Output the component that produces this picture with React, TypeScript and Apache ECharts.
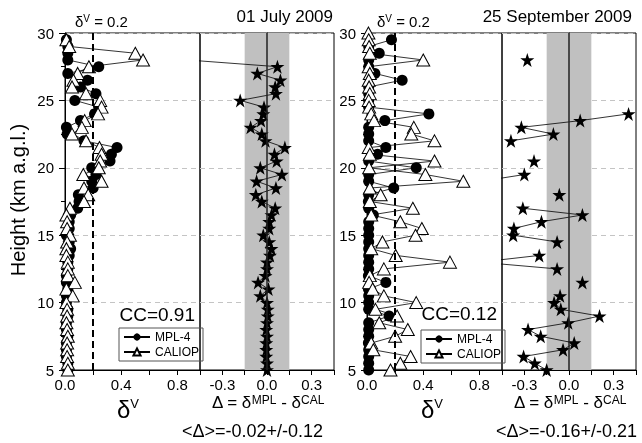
import React, { useEffect, useRef } from 'react';
import * as echarts from 'echarts';

// heights (km a.g.l.), top to bottom
const heights = [30, 29.5, 29, 28.5, 28, 27.5, 27, 26.5, 26, 25.5, 25, 24.5, 24, 23.5, 23, 22.5, 22, 21.5, 21, 20.5, 20, 19.5, 19, 18.5, 18, 17.5, 17, 16.5, 16, 15.5, 15, 14.5, 14, 13.5, 13, 12.5, 12, 11.5, 11, 10.5, 10, 9.5, 9, 8.5, 8, 7.5, 7, 6.5, 6, 5.5, 5];

// 01 July 2009
const julyMPL = [null, 0.01, 0.02, 0.02, 0.02, 0.24, 0.02, 0.16, 0.11, 0.22, 0.07, 0.24, 0.21, 0.11, 0.01, 0.015, 0.135, 0.37, 0.33, 0.32, 0.19, 0.22, 0.19, 0.2, 0.095, 0.1, 0.09, 0.04, 0.03, 0.03, 0.01, 0.03, 0.04, 0.03, 0.02, 0.02, 0.01, 0.01, 0.02, 0.01, 0.01, 0.02, 0.02, 0.01, 0.01, 0.02, 0.01, 0.01, 0.01, 0.02, 0.02];
const julyCAL = [null, 0.01, 0.03, 0.5, 0.555, 0.17, 0.09, 0.06, 0.05, 0.15, 0.25, 0.26, 0.235, 0.14, 0.12, 0.05, 0.15, 0.245, 0.26, 0.25, 0.24, 0.13, 0.26, 0.135, 0.165, 0.135, 0.035, 0.01, 0.015, 0.015, 0.035, 0.015, 0.01, 0.01, 0.02, 0.02, 0.02, 0.07, 0.01, 0.055, 0.01, 0.015, 0.015, 0.01, 0.015, 0.02, 0.015, 0.015, 0.015, 0.02, 0.02];
const julyDelta = [null, null, null, null, -0.535, 0.07, -0.065, 0.09, 0.055, 0.06, -0.18, -0.02, -0.025, -0.04, -0.11, -0.035, -0.01, 0.12, 0.05, 0.065, -0.045, 0.1, -0.07, 0.06, -0.075, -0.035, 0.055, 0.03, 0.015, 0.015, -0.025, 0.015, 0.03, 0.02, 0, 0, -0.01, -0.06, 0.01, -0.045, 0, 0.005, 0.005, 0, -0.005, 0, -0.005, -0.005, -0.005, 0, 0];

// 25 September 2009
const septMPL = [null, 0.174, 0.012, 0.087, 0.012, 0.012, 0.056, 0.25, 0.012, 0.012, 0.012, 0.012, 0.44, 0.127, 0.012, 0.012, 0.012, 0.134, 0.075, 0.012, 0.35, 0.012, 0.012, 0.19, 0.012, 0.01, 0.012, 0.045, 0.012, 0.012, 0.012, 0.012, 0.012, 0.012, 0.012, 0.012, 0.01, 0.134, 0.01, 0.012, 0.012, 0.012, 0.157, 0.012, 0.012, 0.012, 0.01, 0.012, 0.012, 0.012, 0.012];
const septCAL = [0.01, 0.012, 0.015, 0.02, 0.4, 0.012, 0.02, 0.012, 0.015, 0.02, 0.012, 0.015, 0.03, 0.05, 0.333, 0.315, 0.48, 0.012, 0.02, 0.48, 0.015, 0.415, 0.685, 0.02, 0.097, 0.02, 0.326, 0.03, 0.237, 0.39, 0.345, 0.11, 0.03, 0.204, 0.59, 0.12, 0.02, 0.015, 0.04, 0.12, 0.35, 0.06, 0.214, 0.087, 0.29, 0.2, 0.03, 0.045, 0.31, 0.237, 0.167];
const septDelta = [null, null, null, null, -0.28, null, null, null, null, null, null, null, 0.4, 0.075, -0.32, -0.105, -0.39, null, null, -0.235, null, -0.3, -0.59, null, -0.065, null, -0.31, 0.09, -0.185, -0.37, -0.375, -0.08, null, -0.2, -0.6, -0.08, null, 0.09, null, -0.06, -0.1, -0.055, 0.205, -0.005, -0.275, -0.19, 0.035, -0.04, -0.305, -0.23, -0.15];

const titles = ['01 July 2009', '25 September 2009'];
const ccTexts = ['CC=0.91', 'CC=0.12'];
const meanTexts = ['<\u0394>=-0.02+/-0.12', '<\u0394>=-0.16+/-0.21'];
const deltaThreshold = 0.2;
const bandHalf = 0.15;

const FONT = '"Liberation Sans", Arial, sans-serif';
const STAR = 'path://M50,0L61.8,35.3L98.9,35.3L69,57.1L80.3,92.7L50,70.9L19.7,92.7L31,57.1L1.1,35.3L38.2,35.3Z';

const toPairs = (vals: (number | null)[]) => vals.map((v, i) => [v === null ? '-' : v, heights[i]]);

const fmt = (step: number) => (v: number) => {
  const k = Math.round(v / step);
  if (Math.abs(v / step - k) > 1e-6 || k % 2 !== 0) return '';
  if (Math.abs(v) < 1e-9) return '0.0';
  return v.toFixed(1);
};

export default function App() {
  const ref = useRef<HTMLDivElement>(null);
  useEffect(() => {
    if (!ref.current) return;
    const chart = echarts.init(ref.current, null, { renderer: 'svg' });
    const gridBase = { top: 33, height: 337, show: true, borderColor: '#000', borderWidth: 1, backgroundColor: 'transparent' };
    const grids = [
      { ...gridBase, left: 65, width: 135 },
      { ...gridBase, left: 200, width: 134 },
      { ...gridBase, left: 367, width: 135 },
      { ...gridBase, left: 502, width: 134 },
    ];
    const xDelta = (gi: number) => ({
      gridIndex: gi, type: 'value', min: 0, max: 0.96, interval: 0.2,
      axisLine: { show: true, lineStyle: { color: '#000' } },
      axisTick: { show: true, length: 5, lineStyle: { color: '#000' } },
      axisLabel: { formatter: fmt(0.2), color: '#000', fontSize: 15, fontFamily: FONT, margin: 7, showMaxLabel: false },
      splitLine: { show: false },
    });
    const xDiff = (gi: number) => ({
      gridIndex: gi, type: 'value', min: -0.45, max: 0.45, interval: 0.15,
      axisLine: { show: true, lineStyle: { color: '#000' } },
      axisTick: { show: true, length: 5, lineStyle: { color: '#000' } },
      axisLabel: { formatter: fmt(0.15), color: '#000', fontSize: 15, fontFamily: FONT, margin: 7 },
      splitLine: { show: false },
    });
    const yAx = (gi: number, labels: boolean) => ({
      gridIndex: gi, type: 'value', min: 5, max: 30, interval: 5,
      axisLine: { show: true, lineStyle: { color: '#000' } },
      axisTick: { show: labels, length: 6, lineStyle: { color: '#000' } },
      minorTick: { show: labels, splitNumber: 2, length: 4, lineStyle: { color: '#000' } },
      axisLabel: { show: labels, color: '#000', fontSize: 15, fontFamily: FONT, margin: 11 },
      splitLine: { show: true, lineStyle: { color: '#c4c4c4', type: [5, 4], width: 1 } },
    });
    const mplSeries = (vals: (number | null)[], ax: number) => ({
      name: 'MPL-4', type: 'line', xAxisIndex: ax, yAxisIndex: ax, data: toPairs(vals),
      symbol: 'circle', symbolSize: 11, showAllSymbol: true, clip: true, z: 2,
      itemStyle: { color: '#000' }, lineStyle: { color: '#000', width: 0.8 },
      markLine: {
        silent: true, symbol: ['none', 'none'], label: { show: false },
        lineStyle: { color: '#000', type: [7, 4], width: 2 },
        data: [{ xAxis: deltaThreshold }],
      },
    });
    const calSeries = (vals: (number | null)[], ax: number) => ({
      name: 'CALIOP', type: 'line', xAxisIndex: ax, yAxisIndex: ax, data: toPairs(vals),
      symbol: 'triangle', symbolSize: [13, 12], showAllSymbol: true, clip: true, z: 3,
      itemStyle: { color: '#fff', borderColor: '#000', borderWidth: 1 },
      lineStyle: { color: '#000', width: 0.8 },
    });
    const bandSeries = (ax: number) => ({
      name: 'band', type: 'line', xAxisIndex: ax, yAxisIndex: ax, data: [], z: 1,
      markArea: {
        silent: true, itemStyle: { color: '#c0c0c0' },
        data: [[{ xAxis: -bandHalf }, { xAxis: bandHalf }]],
      },
      markLine: {
        silent: true, symbol: ['none', 'none'], label: { show: false },
        lineStyle: { color: '#222', type: 'solid', width: 1.5 },
        data: [{ xAxis: 0 }],
      },
    });
    const diffSeries = (vals: (number | null)[], ax: number) => ({
      name: '\u0394', type: 'line', xAxisIndex: ax, yAxisIndex: ax, data: toPairs(vals),
      symbol: STAR, symbolSize: 14, showAllSymbol: true, clip: true, z: 3,
      itemStyle: { color: '#000' }, lineStyle: { color: '#000', width: 0.8 },
    });
    const legendBase = {
      orient: 'vertical', selectedMode: false, borderColor: '#555', borderWidth: 1,
      padding: [3, 4, 3, 4], itemGap: 3, itemWidth: 26, itemHeight: 9,
      textStyle: { fontSize: 12, fontFamily: FONT, color: '#000' },
      data: ['MPL-4', 'CALIOP'],
    };
    const tStyle = (size: number, extra: any = {}) => ({ fill: '#000', font: `${size}px ${FONT}`, ...extra });
    const richText = (x: number, y: number, text: string, rich: any, align = 'center') => ({
      type: 'text', x, y,
      style: { text, rich, align, verticalAlign: 'middle', fill: '#000', fontFamily: FONT },
    });
    const dvRich = { d: { fontSize: 24, fontFamily: FONT }, s: { fontSize: 13, fontFamily: FONT, verticalAlign: 'top' } };
    const diffRich = { m: { fontSize: 17, fontFamily: FONT }, s: { fontSize: 12, fontFamily: FONT, verticalAlign: 'top' } };
    const thrRich = { m: { fontSize: 15, fontFamily: FONT }, s: { fontSize: 10, fontFamily: FONT, verticalAlign: 'top' } };
    const graphic: any[] = [
      { type: 'text', x: 18, y: 200, rotation: Math.PI / 2, style: tStyle(20, { text: 'Height (km a.g.l.)', align: 'center', verticalAlign: 'middle' }) },
      { type: 'text', x: 333, y: 16, style: tStyle(17, { text: titles[0], align: 'right', verticalAlign: 'middle' }) },
      { type: 'text', x: 632, y: 16, style: tStyle(17, { text: titles[1], align: 'right', verticalAlign: 'middle' }) },
      { type: 'text', x: 195, y: 314, style: tStyle(19, { text: ccTexts[0], align: 'right', verticalAlign: 'middle' }) },
      { type: 'text', x: 497, y: 313, style: tStyle(19, { text: ccTexts[1], align: 'right', verticalAlign: 'middle' }) },
      { type: 'text', x: 182, y: 431, style: tStyle(18, { text: meanTexts[0], align: 'left', verticalAlign: 'middle' }) },
      { type: 'text', x: 496, y: 431, style: tStyle(18, { text: meanTexts[1], align: 'left', verticalAlign: 'middle' }) },
      richText(128, 409, '{d|\u03b4}{s|V}', dvRich),
      richText(432, 409, '{d|\u03b4}{s|V}', dvRich),
      richText(268, 402, '{m|\u0394 = \u03b4}{s|MPL}{m| - \u03b4}{s|CAL}', diffRich),
      richText(570, 402, '{m|\u0394 = \u03b4}{s|MPL}{m| - \u03b4}{s|CAL}', diffRich),
      richText(75, 21, '{m|\u03b4}{s|V}{m| = 0.2}', thrRich, 'left'),
      richText(377, 21, '{m|\u03b4}{s|V}{m| = 0.2}', thrRich, 'left'),
    ];
    chart.setOption({
      animation: false,
      textStyle: { fontFamily: FONT },
      grid: grids,
      xAxis: [xDelta(0), xDiff(1), xDelta(2), xDiff(3)],
      yAxis: [yAx(0, true), yAx(1, false), yAx(2, true), yAx(3, false)],
      legend: [
        { ...legendBase, left: 119, top: 328 },
        { ...legendBase, left: 421, top: 330 },
      ],
      series: [
        bandSeries(1), bandSeries(3),
        mplSeries(julyMPL, 0), calSeries(julyCAL, 0), diffSeries(julyDelta, 1),
        mplSeries(septMPL, 2), calSeries(septCAL, 2), diffSeries(septDelta, 3),
      ],
      graphic,
    });
    return () => chart.dispose();
  }, []);
  return <div ref={ref} style={{ position: 'fixed', left: 0, top: 0, width: 642, height: 443 }} />;
}
